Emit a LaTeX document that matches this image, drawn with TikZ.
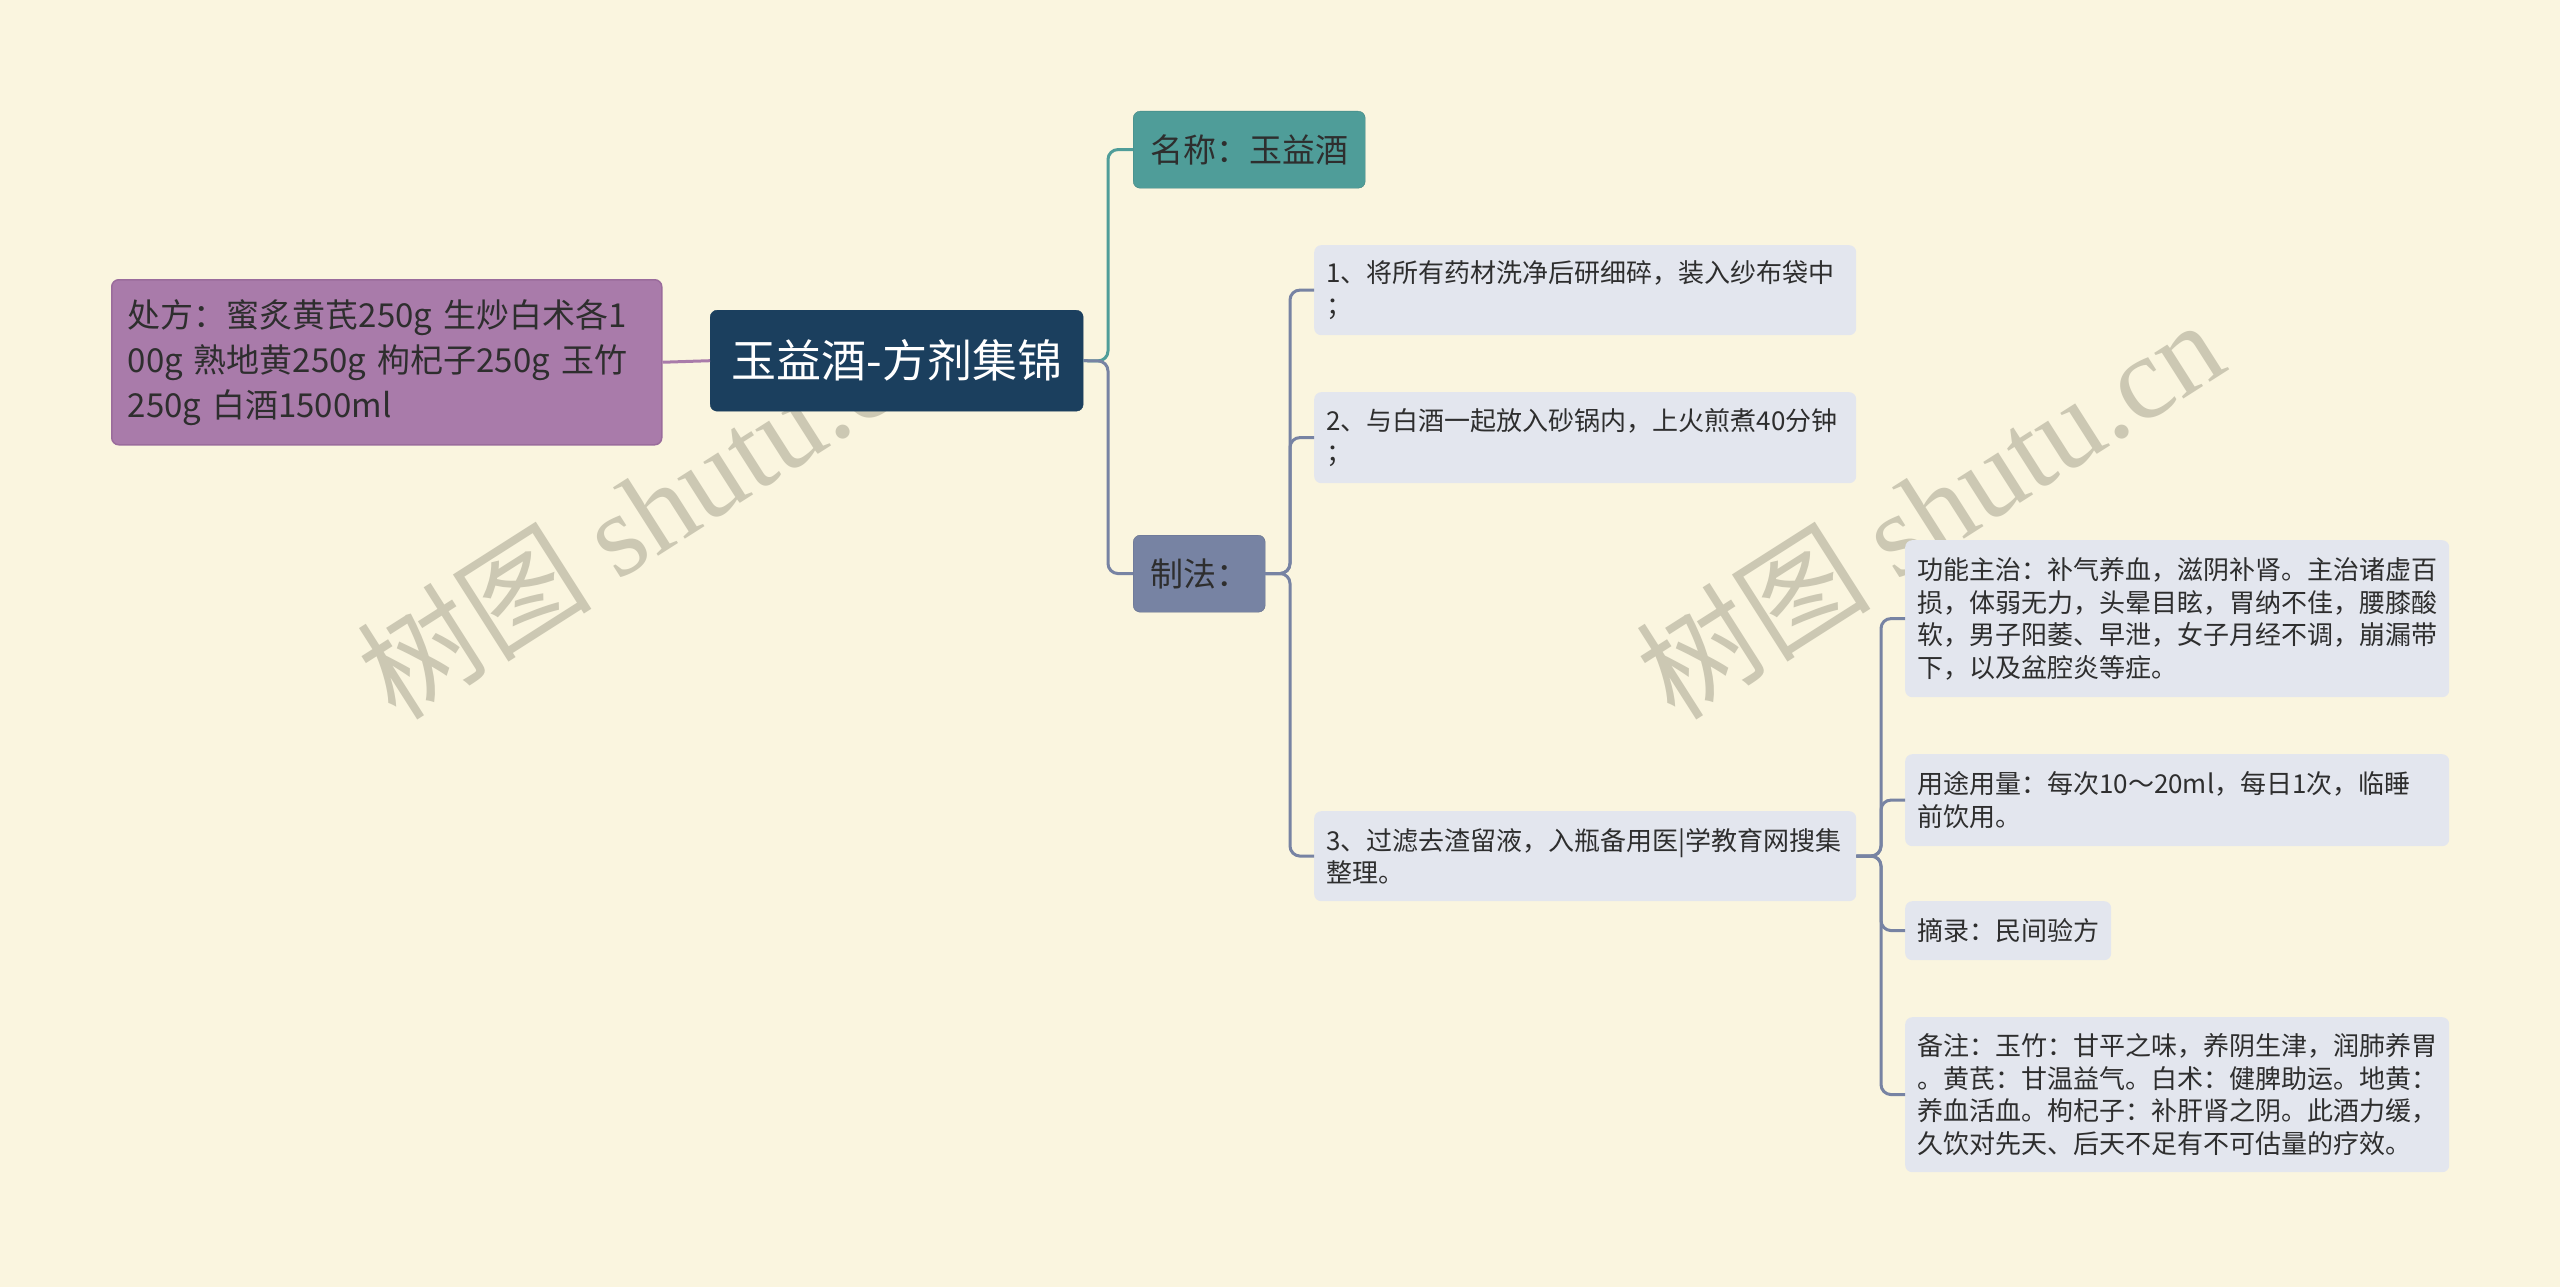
\documentclass[tikz,border=0pt]{standalone}
\usepackage{fontspec}
\setmainfont{Noto Sans CJK SC}
\newfontfamily\wmlat{Liberation Serif}
\definecolor{bgc}{HTML}{FAF5DF}
\definecolor{rootc}{HTML}{1B3F5E}
\definecolor{tealc}{HTML}{4F9D99}
\definecolor{greyc}{HTML}{7783A3}
\definecolor{purpc}{HTML}{A97BAA}
\definecolor{purpd}{HTML}{9A6C9C}
\definecolor{leafc}{HTML}{E3E6EE}
\definecolor{txt}{HTML}{2E2E2E}
\definecolor{wmc}{HTML}{CCC8B3}
\newcommand\leaffont{\fontsize{26pt}{32.6pt}\selectfont}
\newcommand\midfont{\fontsize{33pt}{45pt}\selectfont}
\newcommand\rootfont{\fontsize{45pt}{50pt}\selectfont}
\newcommand\wmfont{\fontsize{118pt}{118pt}\selectfont}
\tikzset{
  box/.style={rounded corners=7pt, inner ysep=0pt, anchor=north west},
  leaf/.style={box, fill=leafc, text=txt, font=\leaffont, inner xsep=12pt, align=left},
  mid/.style={box, font=\midfont, text=txt, inner xsep=17pt, minimum height=77pt},
  conn/.style={line width=3pt, rounded corners=10pt},
  wm/.style={text=wmc, rotate=32.5, font=\wmfont}
}
\begin{document}
\begin{tikzpicture}[x=1pt,y=-1pt]
\fill[bgc] (0,0) rectangle (2560,1287);
\useasboundingbox (0,0) rectangle (2560,1287);
% watermarks
\node[wm] (wm1) at (650,508) {树图 {\wmlat shutu.cn}};
\node[wm] (wm2) at (1929,508) {树图 {\wmlat shutu.cn}};
% nodes
\node[box, fill=rootc, draw=rootc, text=white, font=\rootfont, minimum width=373pt, minimum height=101pt, inner xsep=0pt] (root) at (710,310) {玉益酒-方剂集锦};
\node[box, fill=purpc, draw=purpd, line width=1.5pt, text=txt, font=\midfont, inner xsep=16pt, text width=518pt, minimum height=165pt, align=left] (rx) at (111,279) {处方：蜜炙黄芪250g 生炒白术各1\\00g 熟地黄250g 枸杞子250g 玉竹\\250g 白酒1500ml};
\node[mid, fill=tealc, draw=tealc!85!black, text width=198pt, align=center] (mc) at (1133,111) {名称：玉益酒};
\node[mid, fill=greyc, draw=greyc!85!black, text width=98pt, align=left] (zf) at (1133,535) {制法：};
\node[leaf, text width=518pt, minimum height=90pt] (s1) at (1314,245) {1、将所有药材洗净后研细碎，装入纱布袋中\\；};
\node[leaf, text width=518pt, minimum height=91pt] (s2) at (1314,392) {2、与白酒一起放入砂锅内，上火煎煮40分钟\\；};
\node[leaf, text width=518pt, minimum height=90pt] (s3) at (1314,811) {3、过滤去渣留液，入瓶备用医|学教育网搜集\\整理。};
\node[leaf, text width=520pt, minimum height=157pt] (gn) at (1905,540) {功能主治：补气养血，滋阴补肾。主治诸虚百\\损，体弱无力，头晕目眩，胃纳不佳，腰膝酸\\软，男子阳萎、早泄，女子月经不调，崩漏带\\下，以及盆腔炎等症。};
\node[leaf, text width=520pt, minimum height=92pt] (yt) at (1905,754) {用途用量：每次10～20ml，每日1次，临睡\\前饮用。};
\node[leaf, text width=182pt, minimum height=59pt] (zl) at (1905,901) {摘录：民间验方};
\node[leaf, text width=520pt, minimum height=155pt] (bz) at (1905,1017) {备注：玉竹：甘平之味，养阴生津，润肺养胃\\。黄芪：甘温益气。白术：健脾助运。地黄：\\养血活血。枸杞子：补肝肾之阴。此酒力缓，\\久饮对先天、后天不足有不可估量的疗效。};
% connectors
\draw[conn, purpc] (root.west) -- (rx.east);
\draw[conn, tealc] (root.east) -- (1108,361) -- (1108,149.5) -- (mc.west);
\draw[conn, greyc] (root.east) -- (1108,361) -- (1108,573.5) -- (zf.west);
\draw[conn, greyc] (zf.east) -- (1290,573.5) -- (1290,290) -- (s1.west);
\draw[conn, greyc] (zf.east) -- (1290,573.5) -- (1290,437.5) -- (s2.west);
\draw[conn, greyc] (zf.east) -- (1290,573.5) -- (1290,856) -- (s3.west);
\draw[conn, greyc] (s3.east) -- (1881,856) -- (1881,618.5) -- (gn.west);
\draw[conn, greyc] (s3.east) -- (1881,856) -- (1881,800) -- (yt.west);
\draw[conn, greyc] (s3.east) -- (1881,856) -- (1881,930.5) -- (zl.west);
\draw[conn, greyc] (s3.east) -- (1881,856) -- (1881,1094.5) -- (bz.west);
\end{tikzpicture}
\end{document}
